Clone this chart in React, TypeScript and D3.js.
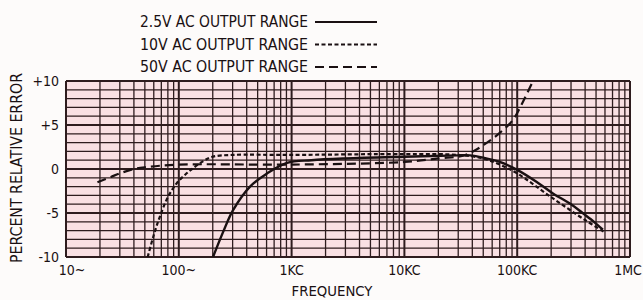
import React from 'react';
import * as d3 from 'd3';

// frequency (Hz) / percent relative error
const freq25 = [201, 250, 302, 428, 606, 910, 1500, 3000, 10000, 30000, 38000, 50000, 70000, 100000, 150000, 209000, 300000, 380000, 480000, 575000];
const err25 = [-10, -7, -4.7, -2, -0.5, 0.7, 1.0, 1.2, 1.4, 1.55, 1.55, 1.3, 0.8, -0.1, -1.5, -2.8, -4.0, -5.0, -6.0, -6.9];

const freq10 = [53, 60, 68, 80, 96, 115, 134, 165, 201, 300, 1000, 10000, 30000, 50000, 70000, 100000, 200000, 400000, 600000];
const err10 = [-10, -7.5, -5.4, -3.2, -1.6, -0.6, 0.1, 0.9, 1.4, 1.6, 1.6, 1.7, 1.6, 1.2, 0.5, -0.5, -3.2, -5.8, -7.2];

const freq50 = [19, 25, 30, 40, 50, 100, 1000, 10000, 20000, 33000, 42000, 54000, 70000, 92000, 110000, 138000];
const err50 = [-1.5, -0.9, -0.5, 0.0, 0.2, 0.5, 0.5, 0.8, 1.2, 1.5, 2.1, 3.0, 4.1, 5.6, 7.4, 10];

const xTickValues = [10, 100, 1000, 10000, 100000, 1000000];
const xTickLabels = ['10~', '100~', '1KC', '10KC', '100KC', '1MC'];
const yTickValues = [10, 5, 0, -5, -10];
const yTickLabels = ['+10', '+5', '0', '-5', '-10'];

const legendLabels = ['2.5V AC OUTPUT RANGE', '10V  AC OUTPUT RANGE', '50V  AC OUTPUT RANGE'];

const W = 643;
const H = 300;
const ink = '#1a1012';
const gridInk = '#2e1c1e';
const font = '"Liberation Sans Narrow", "DejaVu Sans Condensed", "Roboto", sans-serif';

export default function App() {
  const x = d3.scaleLog().domain([10, 1e6]).range([66, 630]);
  const y = d3.scaleLinear().domain([-10, 10]).range([257, 81]);

  const line = d3.line<[number, number]>()
    .x(d => x(d[0]))
    .y(d => y(d[1]))
    .curve(d3.curveCatmullRom.alpha(0.5));

  const series = [
    { f: freq25, e: err25, dash: undefined as string | undefined, w: 2.4 },
    { f: freq10, e: err10, dash: '4,2.5', w: 2.2 },
    { f: freq50, e: err50, dash: '9,5', w: 2.2 },
  ];

  const vLines = x.ticks();
  const hLines = d3.range(-10, 11, 1);

  return (
    <div style={{ position: 'fixed', left: 0, top: 0 }}>
      <svg width={W} height={H} style={{ display: 'block', background: '#fdfbfa' }}>
        <defs>
          <clipPath id="plot">
            <rect x={x(10)} y={y(10)} width={x(1e6) - x(10)} height={y(-10) - y(10)} />
          </clipPath>
        </defs>

        {/* legend */}
        {legendLabels.map((t, i) => (
          <g key={t}>
            <text x={140} y={27 + i * 22.5} fontFamily={font} fontSize={15} fill={ink}
              textLength={168} lengthAdjust="spacingAndGlyphs">{t}</text>
            <line x1={315} x2={377} y1={22 + i * 22.5} y2={22 + i * 22.5}
              stroke={ink} strokeWidth={2} strokeDasharray={series[i].dash} />
          </g>
        ))}

        {/* plot background */}
        <rect x={x(10)} y={y(10)} width={x(1e6) - x(10)} height={y(-10) - y(10)} fill="#f9e0e3" />

        {hLines.map(v => (
          <line key={'h' + v} x1={x(10)} x2={x(1e6)} y1={y(v)} y2={y(v)}
            stroke={gridInk} strokeWidth={v % 5 === 0 ? 1.9 : 1.3} />
        ))}
        {vLines.map(v => {
          const major = Math.abs(Math.log10(v) - Math.round(Math.log10(v))) < 1e-9;
          return (
            <line key={'v' + v} x1={x(v)} x2={x(v)} y1={y(10)} y2={y(-10)}
              stroke={gridInk} strokeWidth={major ? 2 : 1.3} />
          );
        })}

        {/* curves */}
        <g clipPath="url(#plot)">
          {series.map((s, i) => (
            <path key={i} d={line(s.f.map((f, j) => [f, s.e[j]] as [number, number])) || ''}
              fill="none" stroke={ink} strokeWidth={s.w} strokeDasharray={s.dash}
              strokeLinecap="butt" strokeLinejoin="round" />
          ))}
        </g>

        {/* y ticks */}
        {yTickValues.map((v, i) => (
          <text key={'yt' + v} x={59} y={y(v)} dy="0.36em" textAnchor="end"
            fontFamily={font} fontSize={14} fill={ink}>{yTickLabels[i]}</text>
        ))}

        {/* x ticks */}
        {xTickValues.map((v, i) => (
          <text key={'xt' + v} x={x(v)} dx={i === 0 ? 6 : i === xTickValues.length - 1 ? -2 : 0} y={275}
            textAnchor="middle" fontFamily={font} fontSize={14} fill={ink}>{xTickLabels[i]}</text>
        ))}

        <text x={332} y={296} textAnchor="middle" fontFamily={font} fontSize={14} fill={ink}
          textLength={81} lengthAdjust="spacingAndGlyphs">FREQUENCY</text>

        <text transform={`translate(22, 168) rotate(-90)`} textAnchor="middle" fontFamily={font}
          fontSize={16} fill={ink} textLength={190} lengthAdjust="spacingAndGlyphs">PERCENT RELATIVE ERROR</text>
      </svg>
    </div>
  );
}
